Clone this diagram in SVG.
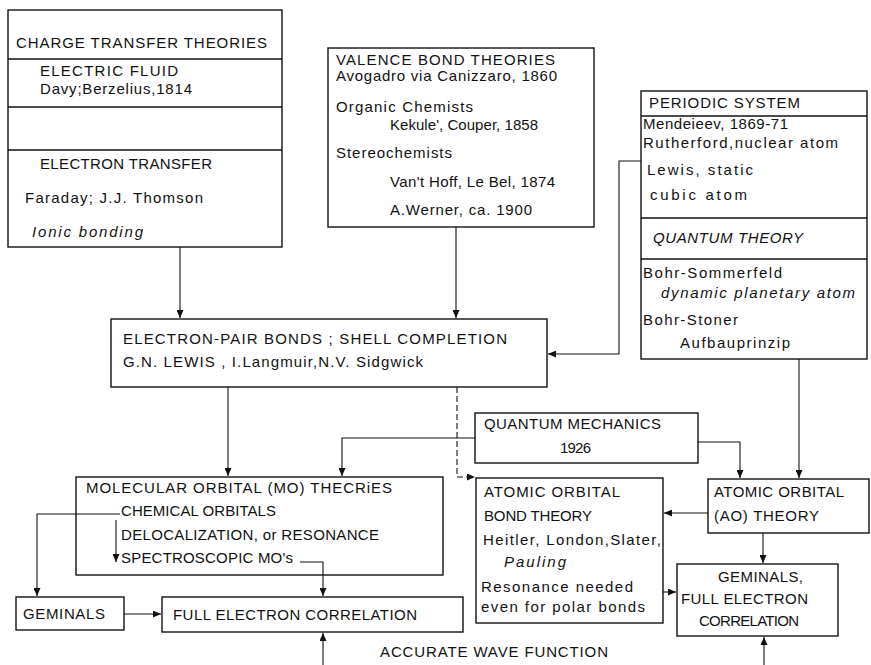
<svg xmlns="http://www.w3.org/2000/svg" width="871" height="665" viewBox="0 0 871 665">
<style>
.b{fill:none;stroke:#111;stroke-width:1.4}
.t{font-family:"Liberation Sans",Arial,sans-serif;font-size:15px;fill:#111}
.i{font-style:italic}
.c{fill:none;stroke:#111;stroke-width:1.1;marker-end:url(#a)}
.d{stroke-dasharray:6,3}
</style>
<defs>
<marker id="a" markerUnits="userSpaceOnUse" markerWidth="8" markerHeight="7" refX="8" refY="3.5" orient="auto">
<path d="M0,0 L8,3.5 L0,7 z" fill="#111"/>
</marker>
</defs>
<rect width="871" height="665" fill="#fff"/>

<g id="charge">
<rect class="b" x="8" y="10" width="274" height="237"/>
<line class="b" x1="8" y1="59" x2="282" y2="59"/>
<line class="b" x1="8" y1="107" x2="282" y2="107"/>
<line class="b" x1="8" y1="150" x2="282" y2="150"/>
<text class="t" x="16" y="48" textLength="251" lengthAdjust="spacing">CHARGE TRANSFER THEORIES</text>
<text class="t" x="40" y="76" textLength="138" lengthAdjust="spacing">ELECTRIC FLUID</text>
<text class="t" x="40" y="94" textLength="152" lengthAdjust="spacing">Davy;Berzelius,1814</text>
<text class="t" x="40" y="169" textLength="172" lengthAdjust="spacing">ELECTRON TRANSFER</text>
<text class="t" x="25" y="203" textLength="178" lengthAdjust="spacing">Faraday; J.J. Thomson</text>
<text class="t i" x="32" y="237" textLength="111" lengthAdjust="spacing">Ionic bonding</text>
</g>

<g id="valence">
<rect class="b" x="328" y="48" width="266" height="179"/>
<text class="t" x="336" y="65" textLength="219" lengthAdjust="spacing">VALENCE BOND THEORIES</text>
<text class="t" x="336" y="81" textLength="221" lengthAdjust="spacing">Avogadro via Canizzaro, 1860</text>
<text class="t" x="336" y="112" textLength="137" lengthAdjust="spacing">Organic Chemists</text>
<text class="t" x="390" y="130" textLength="148" lengthAdjust="spacing">Kekule', Couper, 1858</text>
<text class="t" x="336" y="158" textLength="116" lengthAdjust="spacing">Stereochemists</text>
<text class="t" x="390" y="187" textLength="165" lengthAdjust="spacing">Van't Hoff, Le Bel, 1874</text>
<text class="t" x="390" y="215" textLength="142" lengthAdjust="spacing">A.Werner, ca. 1900</text>
</g>

<g id="periodic">
<rect class="b" x="641" y="91" width="226" height="268"/>
<line class="b" x1="641" y1="116" x2="867" y2="116"/>
<line class="b" x1="641" y1="218" x2="867" y2="218"/>
<line class="b" x1="641" y1="259" x2="867" y2="259"/>
<text class="t" x="649" y="108" textLength="151" lengthAdjust="spacing">PERIODIC SYSTEM</text>
<text class="t" x="643" y="129" textLength="145" lengthAdjust="spacing">Mendeieev, 1869-71</text>
<text class="t" x="643" y="148" textLength="195" lengthAdjust="spacing">Rutherford,nuclear atom</text>
<text class="t" x="647" y="175" textLength="106" lengthAdjust="spacing">Lewis, static</text>
<text class="t" x="650" y="200" textLength="97" lengthAdjust="spacing">cubic atom</text>
<text class="t i" x="653" y="243" textLength="150" lengthAdjust="spacing">QUANTUM THEORY</text>
<text class="t" x="643" y="278" textLength="139" lengthAdjust="spacing">Bohr-Sommerfeld</text>
<text class="t i" x="661" y="298" textLength="194" lengthAdjust="spacing">dynamic planetary atom</text>
<text class="t" x="643" y="325" textLength="95" lengthAdjust="spacing">Bohr-Stoner</text>
<text class="t" x="680" y="348" textLength="110" lengthAdjust="spacing">Aufbauprinzip</text>
</g>

<g id="electronpair">
<rect class="b" x="111" y="319" width="436" height="68"/>
<text class="t" x="123" y="344" textLength="384" lengthAdjust="spacing">ELECTRON-PAIR BONDS ; SHELL COMPLETION</text>
<text class="t" x="123" y="367" textLength="300" lengthAdjust="spacing">G.N. LEWIS , I.Langmuir,N.V. Sidgwick</text>
</g>

<g id="qm">
<rect class="b" x="475" y="413" width="223" height="50"/>
<text class="t" x="484" y="429" textLength="177" lengthAdjust="spacing">QUANTUM MECHANICS</text>
<text class="t" x="560" y="453" textLength="31" lengthAdjust="spacing">1926</text>
</g>

<g id="mo">
<rect class="b" x="76" y="477" width="367" height="98"/>
<text class="t" x="86" y="493" textLength="306" lengthAdjust="spacing">MOLECULAR ORBITAL (MO) THECRiES</text>
<text class="t" x="121" y="516" textLength="155" lengthAdjust="spacing">CHEMICAL ORBITALS</text>
<text class="t" x="121" y="540" textLength="258" lengthAdjust="spacing">DELOCALIZATION, or RESONANCE</text>
<text class="t" x="121" y="563" textLength="172" lengthAdjust="spacing">SPECTROSCOPIC MO's</text>
</g>

<g id="aobt">
<rect class="b" x="476" y="478" width="187" height="145"/>
<text class="t" x="484" y="497" textLength="136" lengthAdjust="spacing">ATOMIC ORBITAL</text>
<text class="t" x="484" y="521" textLength="108" lengthAdjust="spacing">BOND THEORY</text>
<text class="t" x="483" y="545" textLength="178" lengthAdjust="spacing">Heitler, London,Slater,</text>
<text class="t i" x="504" y="567" textLength="62" lengthAdjust="spacing">Pauling</text>
<text class="t" x="481" y="592" textLength="152" lengthAdjust="spacing">Resonance needed</text>
<text class="t" x="481" y="612" textLength="164" lengthAdjust="spacing">even for polar bonds</text>
</g>

<g id="ao">
<rect class="b" x="708" y="479" width="161" height="54"/>
<text class="t" x="714" y="497" textLength="130" lengthAdjust="spacing">ATOMIC ORBITAL</text>
<text class="t" x="714" y="521" textLength="105" lengthAdjust="spacing">(AO) THEORY</text>
</g>

<g id="gemfull">
<rect class="b" x="677" y="564" width="161" height="72"/>
<text class="t" x="718" y="582" textLength="85" lengthAdjust="spacing">GEMINALS,</text>
<text class="t" x="681" y="604" textLength="127" lengthAdjust="spacing">FULL ELECTRON</text>
<text class="t" x="699" y="626" textLength="100" lengthAdjust="spacing">CORRELATION</text>
</g>

<g id="geminals">
<rect class="b" x="16" y="597" width="108" height="33"/>
<text class="t" x="23" y="619" textLength="82" lengthAdjust="spacing">GEMINALS</text>
</g>

<g id="fec">
<rect class="b" x="162" y="597" width="301" height="35"/>
<text class="t" x="173" y="620" textLength="244" lengthAdjust="spacing">FULL ELECTRON CORRELATION</text>
</g>

<g id="label">
<text class="t" x="380" y="657" textLength="228" lengthAdjust="spacing">ACCURATE WAVE FUNCTION</text>
</g>

<g id="connectors">
<path class="c" d="M180 247 V318"/>
<path class="c" d="M456 227 V318"/>
<path class="c" d="M641 161 H619 V354 H548"/>
<path class="c" d="M799 359 V478"/>
<path class="c d" d="M457 387 V477 H475"/>
<path class="c" d="M228 387 V476"/>
<path class="c" d="M475 438 H342 V476"/>
<path class="c" d="M698 442 H740 V478"/>
<path class="c" d="M708 513 H664"/>
<path class="c" d="M763 533 V563"/>
<path class="c" d="M663 592 H676"/>
<path class="c" d="M120 514 H37 V596"/>
<path class="c" d="M116 520 V562"/>
<path class="c" d="M300 562 H323 V596"/>
<path class="c" d="M124 614 H161"/>
<path class="c" d="M323 665 V633"/>
<path class="c" d="M764 665 V637"/>
</g>
</svg>
